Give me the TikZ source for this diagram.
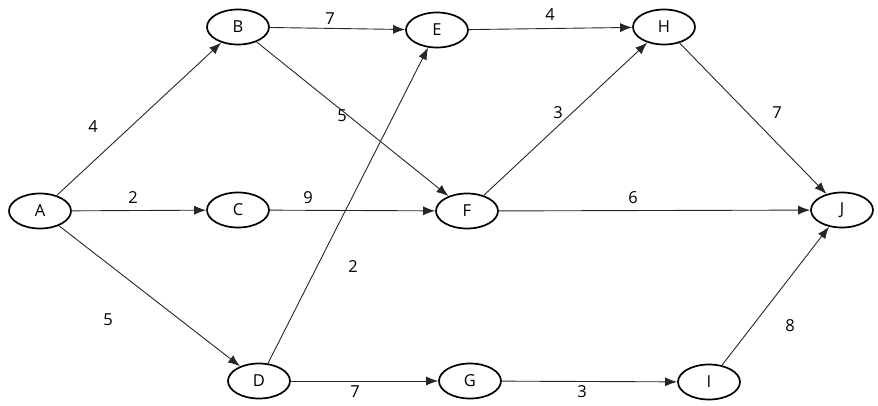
\documentclass[tikz,border=0pt]{standalone}
\usepackage{fontspec}
\setmainfont{Open Sans}
\usetikzlibrary{shapes.geometric,arrows.meta}
\begin{document}
\begin{tikzpicture}[x=1pt,y=-1pt,
  ev/.style={ellipse,draw,line width=1.7pt,minimum width=62pt,minimum height=35pt,inner sep=0pt,font=\fontsize{16.5}{16.5}\selectfont},
  act/.style={-{Latex[length=12pt,width=9pt]},line width=0.9pt,draw=black!85},
  lbl/.style={font=\fontsize{16.5}{16.5}\selectfont}]
\useasboundingbox (0,0) rectangle (878,405);
\node[ev] (A) at (40,211) {A};
\node[ev] (B) at (238,27) {B};
\node[ev] (C) at (238,210) {C};
\node[ev] (D) at (259,381) {D};
\node[ev] (E) at (437,30) {E};
\node[ev] (F) at (467,211) {F};
\node[ev] (G) at (470,381) {G};
\node[ev] (H) at (664,27) {H};
\node[ev] (I) at (709,382) {I};
\node[ev] (J) at (842,210) {J};
\draw[act] (A) -- (B);
\draw[act] (A) -- (C);
\draw[act] (A) -- (D);
\draw[act] (B) -- (E);
\draw[act] (B) -- (F);
\draw[act] (C) -- (F);
\draw[act] (D) -- (E);
\draw[act] (D) -- (G);
\draw[act] (E) -- (H);
\draw[act] (F) -- (H);
\draw[act] (F) -- (J);
\draw[act] (G) -- (I);
\draw[act] (H) -- (J);
\draw[act] (I) -- (J);
\node[lbl] (l1) at (93,127) {4};
\node[lbl] (l2) at (133,198) {2};
\node[lbl] (l3) at (108,320) {5};
\node[lbl] (l4) at (330,19) {7};
\node[lbl] (l5) at (342,116) {5};
\node[lbl] (l6) at (308,198) {9};
\node[lbl] (l7) at (353,267) {2};
\node[lbl] (l8) at (355,392) {7};
\node[lbl] (l9) at (550,15) {4};
\node[lbl] (l10) at (558,113) {3};
\node[lbl] (l11) at (633,198) {6};
\node[lbl] (l12) at (582,392) {3};
\node[lbl] (l13) at (777,113) {7};
\node[lbl] (l14) at (790,326) {8};
\end{tikzpicture}
\end{document}
